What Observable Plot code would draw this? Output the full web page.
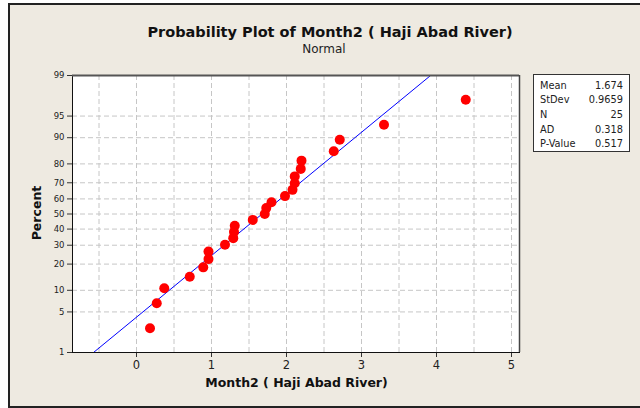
<!DOCTYPE html>
<html>
<head>
<meta charset="utf-8">
<script src="https://cdn.jsdelivr.net/npm/d3@7"></script>
<script src="https://cdn.jsdelivr.net/npm/@observablehq/plot@0.6"></script>
<style>
  html, body { margin: 0; padding: 0; background: #fff; }
  #wrap { position: relative; width: 640px; height: 408px; overflow: hidden; background: #fff; }
  #panel { position: absolute; left: 8px; top: 3px; width: 700px; height: 401px; background: #EEEAE1;
           border-left: 2px solid #222; border-top: 2px solid #222; border-bottom: 2px solid #222; }
  #chart { position: absolute; left: 0; top: 0; }
  .t { position: absolute; white-space: nowrap; font-family: "DejaVu Sans", sans-serif; color: #111; }
  #title { left: 0; width: 660px; text-align: center; top: 24px; font-size: 14.5px; font-weight: bold; }
  #subtitle { left: 0; width: 648px; text-align: center; top: 42px; font-size: 12px; color: #222; }
  #xlabel { left: 0; width: 593px; text-align: center; top: 375px; font-size: 12.5px; font-weight: bold; }
  #ylabel { left: 36px; top: 213px; font-size: 12.5px; font-weight: bold; transform: translate(-50%, -50%) rotate(-90deg); }
  #stats { position: absolute; left: 533px; top: 74px; width: 95px; height: 76px; background: #fff; border: 1px solid #333;
           font-family: "DejaVu Sans", sans-serif; font-size: 9.8px; color: #222; }
  #stats .row { position: absolute; left: 6px; right: 6px; height: 14px; }
  #stats .row span.v { position: absolute; right: 0; }
</style>
</head>
<body>
<div id="wrap">
  <div id="panel"></div>
  <div id="chart"></div>
  <div class="t" id="title">Probability Plot of Month2 ( Haji Abad River)</div>
  <div class="t" id="subtitle">Normal</div>
  <div class="t" id="xlabel">Month2 ( Haji Abad River)</div>
  <div class="t" id="ylabel">Percent</div>
  <div id="stats"></div>
</div>
<script>
// ---- data ----
const monthValues = [0.18, 0.27, 0.37, 0.71, 0.89, 0.96, 0.96, 1.18, 1.29, 1.30, 1.31, 1.55, 1.71,
                     1.73, 1.80, 1.98, 2.08, 2.11, 2.11, 2.19, 2.20, 2.63, 2.71, 3.30, 4.39];
const yTickPercents = [1, 5, 10, 20, 30, 40, 50, 60, 70, 80, 90, 95, 99];
const xTickValues = [0, 1, 2, 3, 4, 5];
const xGridValues = [-0.5, 0, 0.5, 1, 1.5, 2, 2.5, 3, 3.5, 4, 4.5, 5];
const statLabels = ["Mean", "StDev", "N", "AD", "P-Value"];
const statValues = ["1.674", "0.9659", "25", "0.318", "0.517"];
const fitMean = 1.674, fitSd = 0.9659;

// inverse normal CDF (Acklam)
function probit(p) {
  const a = [-3.969683028665376e+01, 2.209460984245205e+02, -2.759285104469687e+02, 1.383577518672690e+02, -3.066479806614716e+01, 2.506628277459239e+00];
  const b = [-5.447609879822406e+01, 1.615858368580409e+02, -1.556989798598866e+02, 6.680131188771972e+01, -1.328068155288572e+01];
  const c = [-7.784894002430293e-03, -3.223964580411365e-01, -2.400758277161838e+00, -2.549732539343734e+00, 4.374664141464968e+00, 2.938163982698783e+00];
  const d = [7.784695709041462e-03, 3.224671290700398e-01, 2.445134137142996e+00, 3.754408661907416e+00];
  const pl = 0.02425, ph = 1 - pl;
  let q, r;
  if (p < pl) {
    q = Math.sqrt(-2 * Math.log(p));
    return (((((c[0]*q+c[1])*q+c[2])*q+c[3])*q+c[4])*q+c[5]) / ((((d[0]*q+d[1])*q+d[2])*q+d[3])*q+1);
  } else if (p <= ph) {
    q = p - 0.5; r = q * q;
    return (((((a[0]*r+a[1])*r+a[2])*r+a[3])*r+a[4])*r+a[5])*q / (((((b[0]*r+b[1])*r+b[2])*r+b[3])*r+b[4])*r+1);
  } else {
    q = Math.sqrt(-2 * Math.log(1 - p));
    return -(((((c[0]*q+c[1])*q+c[2])*q+c[3])*q+c[4])*q+c[5]) / ((((d[0]*q+d[1])*q+d[2])*q+d[3])*q+1);
  }
}

const n = monthValues.length;
const sorted = monthValues.slice().sort((a, b) => a - b);
const points = sorted.map((v, i) => ({ x: v, z: probit((i + 1 - 0.3) / (n + 0.4)) }));
const yTicks = yTickPercents.map(p => ({ p, z: probit(p / 100) }));
const zLo = probit(0.01), zHi = probit(0.99);
const fitLine = [zLo, zHi].map(z => ({ x: fitMean + fitSd * z, z }));
const labelOf = new Map(yTicks.map(t => [t.z, String(t.p)]));

const chart = Plot.plot({
  width: 640, height: 408,
  marginLeft: 72, marginRight: 121, marginTop: 75, marginBottom: 56,
  style: { background: "transparent", fontFamily: "DejaVu Sans, sans-serif", color: "#222" },
  x: { domain: [(72 - 136) / 75, (519 - 136) / 75], label: null },
  y: { domain: [zLo, zHi], label: null },
  marks: [
    Plot.frame({ fill: "white", stroke: "none" }),
    Plot.ruleX(xGridValues, { stroke: "#c6c6c6", strokeWidth: 1, strokeDasharray: "5,3" }),
    Plot.ruleY(yTicks.slice(1, -1), { y: "z", stroke: "#c6c6c6", strokeWidth: 1, strokeDasharray: "5,3" }),
    Plot.line(fitLine, { x: "x", y: "z", stroke: "#0000ff", strokeWidth: 1 }),
    Plot.dot(points, { x: "x", y: "z", r: 5, fill: "#ff0000", stroke: "none" }),
    Plot.axisY(yTicks.map(t => t.z), { tickSize: 5, tickPadding: 3, fontSize: 8.5, tickFormat: z => labelOf.get(z), label: null, stroke: "#333" }),
    Plot.axisX(xTickValues, { tickSize: 5, tickPadding: 3, fontSize: 11.5, tickFormat: d => String(d), label: null, stroke: "#333" }),
    Plot.frame({ stroke: "#111", strokeWidth: 1 }),
    Plot.ruleY([zHi], { stroke: "#555", strokeWidth: 2 }),
    Plot.ruleX([(519 - 136) / 75], { stroke: "#444", strokeWidth: 1.5 })
  ]
});
document.getElementById("chart").appendChild(chart);

const stats = document.getElementById("stats");
statLabels.forEach((lab, i) => {
  const row = document.createElement("div");
  row.className = "row";
  row.style.top = (4.5 + i * 14.7) + "px";
  row.innerHTML = `<span>${lab}</span><span class="v">${statValues[i]}</span>`;
  stats.appendChild(row);
});
</script>
</body>
</html>
